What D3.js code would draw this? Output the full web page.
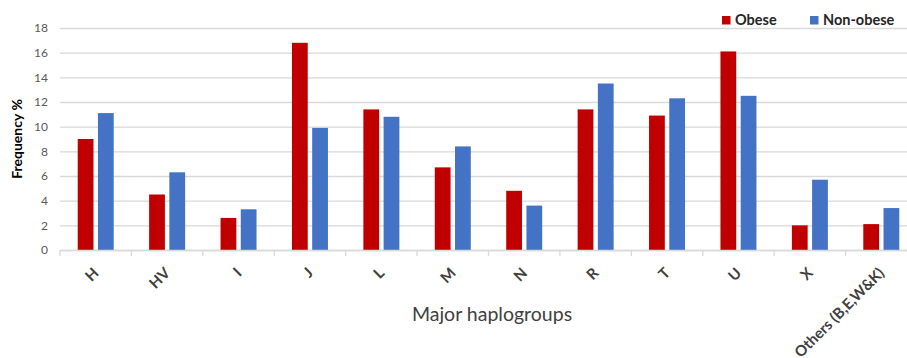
<!DOCTYPE html>
<html><head><meta charset="utf-8">
<script src="https://cdn.jsdelivr.net/npm/d3@7"></script>
<style>body{margin:0;background:#fff;overflow:hidden}</style>
</head><body>
<svg id="c" width="907" height="358"></svg>
<script>
const categories = ["H","HV","I","J","L","M","N","R","T","U","X","Others (B,E,W&K)"];
const obese = [9.0,4.5,2.6,16.8,11.4,6.7,4.8,11.4,10.9,16.1,2.0,2.1];
const nonObese = [11.1,6.3,3.3,9.9,10.8,8.4,3.6,13.5,12.3,12.5,5.7,3.4];
const seriesNames = ["Obese","Non-obese"];
const colors = ["#C00000","#4472C4"];
const yTicks = [0,2,4,6,8,10,12,14,16,18];

(function(){
const font = "Lato, 'Open Sans', sans-serif";
const svg = d3.select("#c");
const mLeft = 60, mRight = 917, mTop = 28, mBottom = 250;
const x = d3.scaleBand().domain(categories).range([mLeft,mRight]).paddingInner(0).paddingOuter(0);
const x1 = d3.scaleBand().domain(seriesNames).range([x.bandwidth()/2-18, x.bandwidth()/2+18]).paddingInner(0.22);
const y = d3.scaleLinear().domain([0,18]).range([mBottom, mTop]);

const yAxis = d3.axisLeft(y).tickValues(yTicks).tickSize(-(mRight-mLeft)).tickPadding(12);
const gy = svg.append("g").attr("transform",`translate(${mLeft},0)`).call(yAxis);
gy.select(".domain").remove();
gy.selectAll(".tick line").attr("stroke","#d9d9d9").attr("stroke-width",1.3);
gy.selectAll(".tick text").attr("fill","#595959").style("font-family",font).style("font-size","12px");

const data = categories.map((c,i)=>({c, vals:[obese[i], nonObese[i]]}));
const g = svg.append("g");
g.selectAll("g").data(data).join("g")
  .attr("transform",d=>`translate(${x(d.c)},0)`)
  .selectAll("rect").data(d=>d.vals.map((v,j)=>({v, s:seriesNames[j], col:colors[j]})))
  .join("rect")
  .attr("x",d=>x1(d.s)).attr("width",x1.bandwidth())
  .attr("y",d=>y(d.v)).attr("height",d=>y(0)-y(d.v))
  .attr("fill",d=>d.col);

const xAxis = d3.axisBottom(x).tickSize(0).tickPadding(0);
const gx = svg.append("g").attr("transform",`translate(0,${mBottom})`).call(xAxis);
gx.select(".domain").attr("stroke","#d9d9d9").attr("stroke-width",1.3);
gx.selectAll(".bnd").data(d3.range(categories.length+1)).join("line")
  .attr("x1",i=>mLeft+i*x.step()).attr("x2",i=>mLeft+i*x.step())
  .attr("y1",0).attr("y2",6).attr("stroke","#d9d9d9").attr("stroke-width",1.3);
gx.selectAll(".tick text")
  .attr("fill","#404040").style("font-family",font).style("font-size","15px").style("font-weight","bold")
  .attr("text-anchor","end").attr("dy","0")
  .attr("transform","translate(4,24) rotate(-45)");

svg.append("text").attr("x",492).attr("y",321).attr("text-anchor","middle")
  .attr("fill","#404040").style("font-family",font).style("font-size","19.5px").text("Major haplogroups");
svg.append("text").attr("transform","translate(22,139) rotate(-90)").attr("text-anchor","middle")
  .attr("fill","#000").style("font-family",font).style("font-size","14px").style("font-weight","bold").text("Frequency %");

const legX = [722, 810];
const lg = svg.append("g");
seriesNames.forEach((s,i)=>{
  lg.append("rect").attr("x",legX[i]).attr("y",16).attr("width",8.5).attr("height",8.5).attr("fill",colors[i]);
  lg.append("text").attr("x",legX[i]+13).attr("y",25).attr("fill","#262626")
    .style("font-family",font).style("font-size","14.5px").style("font-weight","bold").text(s);
});
})();
</script>
</body></html>
